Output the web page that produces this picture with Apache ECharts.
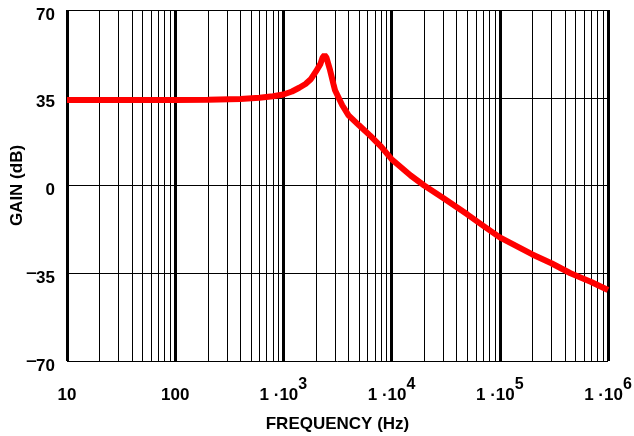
<!DOCTYPE html>
<html>
<head>
<meta charset="utf-8">
<script src="https://cdn.jsdelivr.net/npm/echarts@6/dist/echarts.min.js"></script>
<style>html,body{margin:0;padding:0;background:#fff;}#c{width:634px;height:436px;}</style>
</head>
<body>
<div id="c"></div>
<script>
var freqs = [10, 20, 50, 100, 200, 400, 600, 800, 1000, 1200, 1400, 1600, 1800, 2000, 2200, 2300, 2400, 2500, 2700, 2900, 3000, 3500, 4000, 5000, 6300, 8000, 10000, 15000, 20000, 30000, 50000, 70000, 100000, 200000, 300000, 450000, 700000, 1000000];
var gains = [34.1, 34.1, 34.1, 34.1, 34.2, 34.5, 35.0, 35.6, 36.3, 37.5, 39.0, 40.5, 42.5, 45.5, 48.5, 51.0, 52.0, 51.0, 46.0, 40.5, 38.0, 32.0, 28.0, 24.0, 20.0, 15.5, 10.5, 4.0, 0.0, -5.0, -11.5, -16.0, -20.7, -27.5, -31.0, -35.0, -38.5, -41.7];
var minorFreqs = [];
var decades = [10, 100, 1000, 10000, 100000];
decades.forEach(function (d) { for (var k = 2; k <= 9; k++) minorFreqs.push(d * k); });
var yTicks = [-70, -35, 0, 35, 70];

var font = 'Liberation Sans, Arial, sans-serif';
var chart = echarts.init(document.getElementById('c'));
chart.setOption({
  animation: false,
  grid: { left: 67, right: 26, top: 10, bottom: 75, containLabel: false, outerBoundsMode: 'none' },
  xAxis: {
    type: 'log', logBase: 10, min: 10, max: 1000000,
    name: 'FREQUENCY (Hz)', nameLocation: 'middle', nameGap: 55, nameMoveOverlap: false,
    nameTextStyle: { fontFamily: font, fontWeight: 'bold', fontSize: 17, color: '#000' },
    axisLine: { show: false }, axisTick: { show: false },
    splitLine: { show: true, lineStyle: { color: '#000', width: 3 } },
    minorTick: { show: false }, minorSplitLine: { show: false },
    axisLabel: {
      margin: 16, color: '#000', fontFamily: font, fontWeight: 'bold', fontSize: 17,
      formatter: function (v) {
        var e = Math.round(Math.log10(v));
        if (e < 3) return '{p|' + Math.round(v) + '}';
        return '1 \u00b710{s|' + e + '}';
      },
      rich: {
        s: { fontFamily: font, fontWeight: 'bold', fontSize: 16, color: '#000', padding: [0, 0, 20, 0] },
        p: { fontFamily: font, fontWeight: 'bold', fontSize: 17, color: '#000', padding: [10, 0, 0, 0] }
      }
    }
  },
  yAxis: {
    type: 'value', min: -70, max: 70, interval: 35,
    name: 'GAIN (dB)', nameLocation: 'middle', nameGap: 41, nameRotate: 90, nameMoveOverlap: false,
    nameTextStyle: { fontFamily: font, fontWeight: 'bold', fontSize: 17, color: '#000' },
    axisLine: { show: false }, axisTick: { show: false },
    splitLine: { show: true, lineStyle: { color: '#000', width: 1 } },
    axisLabel: {
      margin: 12, color: '#000', fontFamily: font, fontWeight: 'bold', fontSize: 17,
      padding: [10, 0, 0, 0],
      formatter: function (v) {
        if (v < 0) return '{m|\u2012}' + Math.abs(v);
        return String(v);
      },
      rich: { m: { fontFamily: font, fontWeight: 'bold', fontSize: 17, color: '#000', padding: [0, 0, 10, 0] } }
    }
  },
  series: [
    {
      type: 'line', data: [], silent: true, z: 1,
      markLine: {
        silent: true, symbol: ['none', 'none'], animation: false,
        label: { show: false },
        lineStyle: { color: '#000', width: 1, type: 'solid' },
        emphasis: { disabled: true },
        data: minorFreqs.map(function (f) { return { xAxis: f }; })
      }
    },
    {
      type: 'line', z: 5, showSymbol: false, silent: true,
      lineStyle: { color: '#ff0000', width: 6 },
      itemStyle: { color: '#ff0000' },
      data: freqs.map(function (f, i) { return [f, gains[i]]; })
    }
  ]
});
</script>
</body>
</html>
